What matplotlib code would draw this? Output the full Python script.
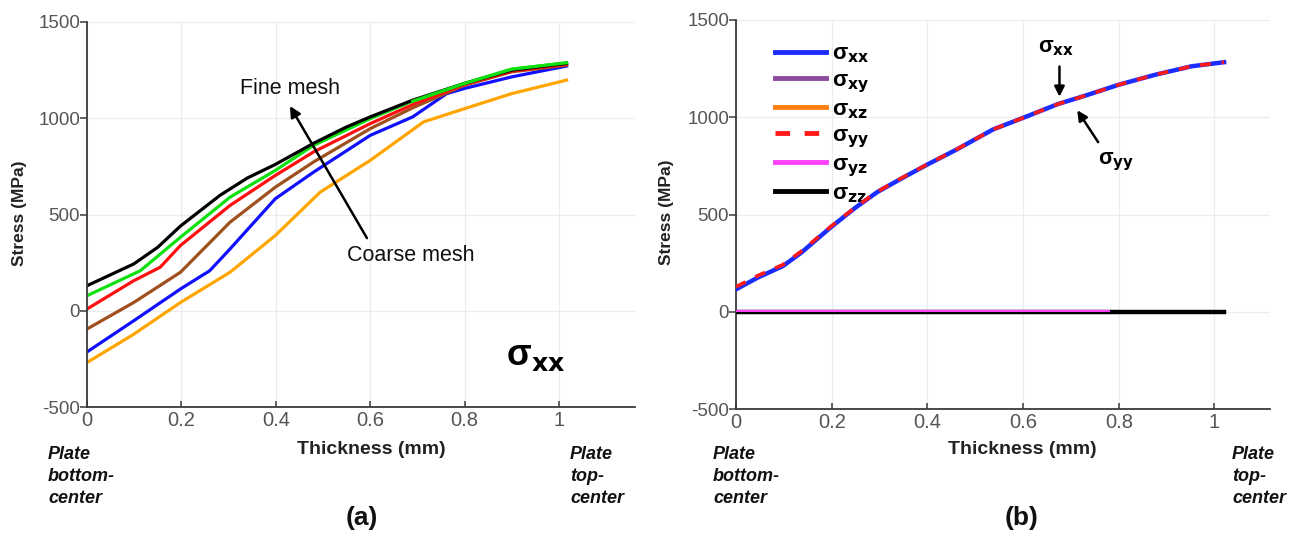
import matplotlib
import matplotlib.pyplot as plt

matplotlib.use("Agg")
plt.rcParams["axes.unicode_minus"] = False

W, H = 1295, 536

# (a) sigma_xx through the thickness for six mesh densities, coarse -> fine
black_x = [0, 0.099, 0.15, 0.198, 0.282, 0.34, 0.399, 0.48, 0.55, 0.6, 0.69, 0.80, 0.90, 1.016]
black_y = [130, 243, 330, 440, 600, 690, 760, 870, 955, 1007, 1094, 1181, 1250, 1285]
green_x = [0, 0.113, 0.198, 0.303, 0.399, 0.48, 0.6, 0.69, 0.80, 0.90, 1.016]
green_y = [78, 208, 382, 590, 729, 859, 998, 1089, 1181, 1255, 1288]
red_x = [0, 0.099, 0.155, 0.198, 0.303, 0.399, 0.48, 0.6, 0.69, 0.80, 0.90, 1.016]
red_y = [9, 156, 226, 339, 547, 703, 825, 972, 1071, 1175, 1245, 1280]
brown_x = [0, 0.099, 0.198, 0.24, 0.303, 0.399, 0.48, 0.6, 0.69, 0.80, 0.90, 1.016]
brown_y = [-95, 43, 200, 304, 460, 642, 773, 946, 1054, 1172, 1241, 1276]
blue_x = [0, 0.099, 0.198, 0.26, 0.303, 0.399, 0.48, 0.6, 0.69, 0.762, 0.80, 0.90, 1.016]
blue_y = [-214, -52, 113, 208, 321, 582, 720, 911, 1007, 1128, 1155, 1215, 1271]
orange_x = [0, 0.099, 0.198, 0.303, 0.399, 0.494, 0.6, 0.713, 0.80, 0.90, 1.016]
orange_y = [-269, -122, 43, 200, 391, 616, 781, 981, 1050, 1128, 1198]

# (b) all stress components on the finest mesh
comp_x = [0, 0.045, 0.098, 0.136, 0.197, 0.249, 0.295, 0.348, 0.4, 0.461,
          0.537, 0.6, 0.673, 0.726, 0.801, 0.877, 0.952, 1.02]
sxx = [115, 175, 235, 303, 432, 534, 615, 688, 757, 834,
       937, 997, 1068, 1108, 1168, 1219, 1262, 1283]
syy = [128, 185, 242, 310, 436, 536, 617, 690, 758, 835,
       937, 997, 1068, 1108, 1168, 1219, 1262, 1283]
shear_x = [0, 0.78]
sxy = [0, 0]
sxz = [0, 0]
syz = [4, 4]
szz_x = [0, 1.02]
szz = [0, 0]

x_ticks = [0, 0.2, 0.4, 0.6, 0.8, 1]
x_ticklabels = ["0", "0.2", "0.4", "0.6", "0.8", "1"]
y_ticks = [-500, 0, 500, 1000, 1500]

SANS = ["Liberation Sans", "DejaVu Sans"]
TICK_GREY = "#555555"


def px_box(left, right, top, bottom):
    return [left / W, 1 - bottom / H, (right - left) / W, (bottom - top) / H]


def style_axes(ax, xmax):
    ax.set_xlim(0, xmax)
    ax.set_ylim(-500, 1500)
    ax.set_xticks(x_ticks)
    ax.set_xticklabels(x_ticklabels)
    ax.set_yticks(y_ticks)
    ax.grid(True, color="#ececec", linewidth=0.9)
    ax.set_axisbelow(True)
    for side in ("top", "right"):
        ax.spines[side].set_visible(False)
    for side in ("left", "bottom"):
        ax.spines[side].set_color("#3a3a3a")
        ax.spines[side].set_linewidth(1.3)
    ax.tick_params(axis="y", direction="out", length=5, width=1.1,
                   color="#3a3a3a", pad=0, labelsize=13.5, labelcolor=TICK_GREY)
    ax.tick_params(axis="x", direction="in", length=4, width=1.1,
                   color="#3a3a3a", pad=3, labelsize=14.5, labelcolor=TICK_GREY)
    for lab in ax.get_xticklabels() + ax.get_yticklabels():
        lab.set_family(SANS)


def fig_text(x, y, s, **kw):
    fig.text(x / W, 1 - y / H, s, family=SANS, **kw)


fig = plt.figure(figsize=(W / 100, H / 100), dpi=100)

# ---- panel (a) ----
ax1 = fig.add_axes(px_box(87, 635, 22, 407))
style_axes(ax1, 1.161)
lw = 2.3
ax1.plot(orange_x, orange_y, color="#ffa500", lw=lw)
ax1.plot(blue_x, blue_y, color="#1010ff", lw=lw)
ax1.plot(brown_x, brown_y, color="#a0501e", lw=lw)
ax1.plot(red_x, red_y, color="#ff1010", lw=lw)
ax1.plot(green_x, green_y, color="#10e010", lw=lw)
ax1.plot(black_x, black_y, color="black", lw=lw)
ax1.plot(green_x[-4:], green_y[-4:], color="#10e010", lw=lw)

ax1.annotate("", xy=(0.427, 1076), xytext=(0.596, 365),
             arrowprops=dict(arrowstyle="-|>", color="black", lw=1.8,
                             mutation_scale=16))
ax1.text(0.43, 1155, "Fine mesh", family=SANS, fontsize=15.5,
         ha="center", va="center", color="#111111")
ax1.text(0.685, 286, "Coarse mesh", family=SANS, fontsize=15.5,
         ha="center", va="center", color="#111111")
ax1.text(0.95, -234, r"σ$_\mathbf{xx}$", family=SANS, fontsize=26,
         fontweight="bold", ha="center", va="center")

# ---- panel (b) ----
ax2 = fig.add_axes(px_box(736, 1270, 20, 409))
style_axes(ax2, 1.116)
ax2.plot(shear_x, sxy, color="#8e4a9e", lw=2.2, label=r"σ$_\mathbf{xy}$", zorder=3)
ax2.plot(shear_x, sxz, color="#ff8010", lw=2.2, label=r"σ$_\mathbf{xz}$", zorder=3)
ax2.plot(szz_x, szz, color="black", lw=3.2, label=r"σ$_\mathbf{zz}$", zorder=4)
ax2.plot(shear_x, syz, color="#ff40ff", lw=1.5, label=r"σ$_\mathbf{yz}$", zorder=5)
ax2.plot(comp_x, sxx, color="#1a2cff", lw=3.2, label=r"σ$_\mathbf{xx}$", zorder=6)
ax2.plot(comp_x, syy, color="#ff1a1a", lw=2.6, ls=(0, (3, 3)),
         label=r"σ$_\mathbf{yy}$", zorder=7)

handles, labels = ax2.get_legend_handles_labels()
order = [labels.index(r"σ$_\mathbf{" + k + "}$") for k in ("xx", "xy", "xz", "yy", "yz", "zz")]
leg = ax2.legend([handles[i] for i in order], [labels[i] for i in order],
                 loc="upper left", bbox_to_anchor=(0.035, 0.99), frameon=False,
                 handlelength=2.3, handletextpad=0.3, labelspacing=0.2,
                 prop={"family": SANS, "weight": "bold", "size": 16})
for line in leg.get_lines():
    line.set_linewidth(3.5)

ax2.annotate("", xy=(0.676, 1091), xytext=(0.676, 1275),
             arrowprops=dict(arrowstyle="-|>", color="black", lw=1.8,
                             mutation_scale=15))
ax2.text(0.669, 1360, r"σ$_\mathbf{xx}$", family=SANS, fontsize=15.5,
         fontweight="bold", ha="center", va="center")
ax2.annotate("", xy=(0.71, 1048), xytext=(0.76, 860),
             arrowprops=dict(arrowstyle="-|>", color="black", lw=1.8,
                             mutation_scale=15))
ax2.text(0.795, 770, r"σ$_\mathbf{yy}$", family=SANS, fontsize=15.5,
         fontweight="bold", ha="center", va="center")

# ---- shared captions ----
for ax_left, cx_label, cx_panel, y_lab, x_bot, x_top, tag in (
        (20, 371, 362, 213, 48, 570, "(a)"),
        (667, 1022, 1022, 212, 713, 1232, "(b)")):
    fig_text(ax_left, y_lab, "Stress (MPa)", rotation=90, fontsize=12.5,
             fontweight="bold", ha="center", va="center", color="#222222")
    fig_text(cx_label, 450, "Thickness (mm)", fontsize=14, fontweight="bold",
             ha="center", va="center", color="#222222")
    fig_text(x_bot, 446, "Plate\nbottom-\ncenter", fontsize=13,
             fontweight="bold", style="italic", ha="left", va="top",
             linespacing=1.38, color="#111111")
    fig_text(x_top, 446, "Plate\ntop-\ncenter", fontsize=13,
             fontweight="bold", style="italic", ha="left", va="top",
             linespacing=1.38, color="#111111")
    fig_text(cx_panel, 518, tag, fontsize=19, fontweight="bold",
             ha="center", va="center", color="#111111")

fig.savefig("out.png", dpi=100)
